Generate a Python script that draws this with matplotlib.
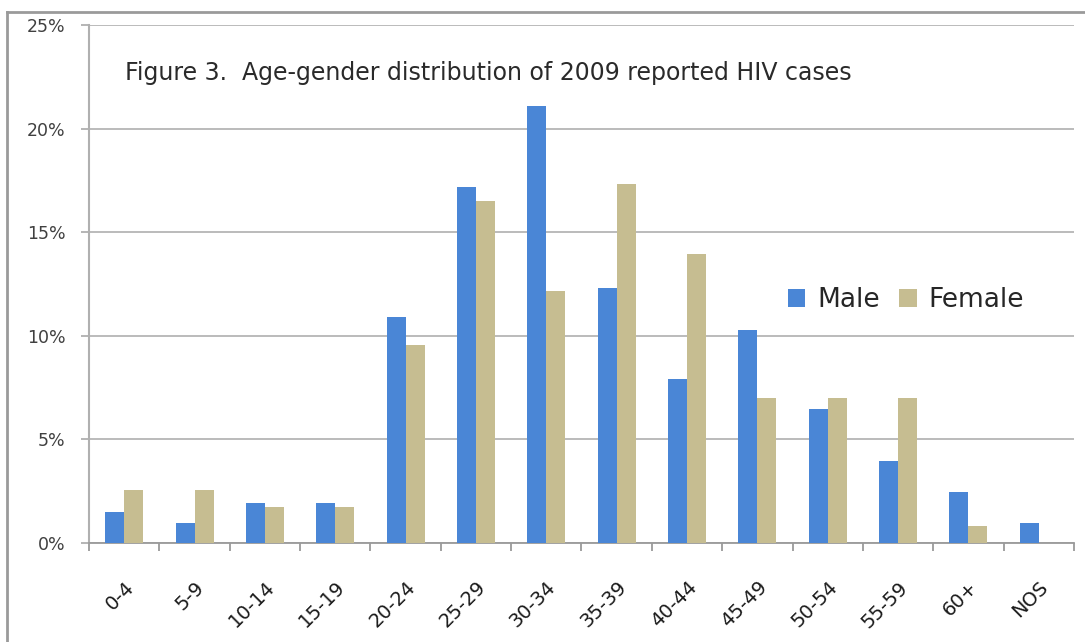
import matplotlib
matplotlib.use("Agg")
import matplotlib.pyplot as plt
import numpy as np
from matplotlib.ticker import FuncFormatter, FixedLocator

categories = ["0-4", "5-9", "10-14", "15-19", "20-24", "25-29", "30-34",
              "35-39", "40-44", "45-49", "50-54", "55-59", "60+", "NOS"]
male = [1.5, 0.95, 1.95, 1.95, 10.9, 17.2, 21.1, 12.3, 7.9, 10.3, 6.45, 3.95, 2.45, 0.95]
female = [2.55, 2.55, 1.75, 1.75, 9.55, 16.5, 12.15, 17.35, 13.95, 7.0, 7.0, 7.0, 0.8, 0.0]
yticks = [0, 5, 10, 15, 20, 25]

plt.rcParams['font.family'] = ['DejaVu Sans']

fig = plt.figure(figsize=(10.85, 6.42), dpi=100)
ax = fig.add_axes([89/1085, 1 - 543/642, (1074 - 89)/1085, (543 - 25)/642])

x = np.arange(len(categories))
w = 0.27
ax.bar(x - w/2, male, width=w, color="#4A86D6", label="Male", zorder=3)
ax.bar(x + w/2, female, width=w, color="#C6BD91", label="Female", zorder=3)

ax.set_xlim(-0.5, len(categories) - 0.5)
ax.set_ylim(0, 25)
ax.set_yticks(yticks)
ax.yaxis.set_major_formatter(FuncFormatter(lambda v, p: f"{int(v)}%"))
ax.grid(axis="y", color="#B5B5B5", linewidth=1.3, zorder=0)
ax.tick_params(axis="y", length=6, width=1.3, color="#B0B0B0", labelsize=12.5,
               labelcolor="#404040", pad=11)

ax.set_xticks(x)
ax.set_xticklabels(categories, rotation=45, ha="right", rotation_mode="anchor",
                   fontsize=14, color="#1a1a1a")
ax.tick_params(axis="x", which="major", length=0, pad=25)
ax.xaxis.set_minor_locator(FixedLocator(np.arange(-0.5, len(categories), 1.0)))
ax.tick_params(axis="x", which="minor", length=6, color="#9A9A9A", width=1.3)

for s in ["top", "right"]:
    ax.spines[s].set_visible(False)
ax.spines["left"].set_color("#B0B0B0")
ax.spines["left"].set_linewidth(1.5)
ax.spines["bottom"].set_color("#9A9A9A")
ax.spines["bottom"].set_linewidth(1.3)

ax.text(0.037, 0.894, "Figure 3.  Age-gender distribution of 2009 reported HIV cases",
        transform=ax.transAxes, fontsize=17, color="#2a2a2a", ha="left", va="baseline")

leg = ax.legend(loc="center left", bbox_to_anchor=(0.7097, 0.469), ncol=2, frameon=False,
                fontsize=19, handlelength=0.65, handleheight=0.65, handletextpad=0.45,
                columnspacing=0.75, borderpad=0, borderaxespad=0)
for t in leg.get_texts():
    t.set_color("#262626")

# outer frame lines (left and top)
fig.add_artist(plt.Line2D([7/1085, 7/1085], [0, 1 - 12/642], transform=fig.transFigure,
                          color="#9A9A9A", linewidth=2))
fig.add_artist(plt.Line2D([7/1085, 1], [1 - 12/642, 1 - 12/642], transform=fig.transFigure,
                          color="#9A9A9A", linewidth=2))

fig.savefig("out.png", dpi=100)
